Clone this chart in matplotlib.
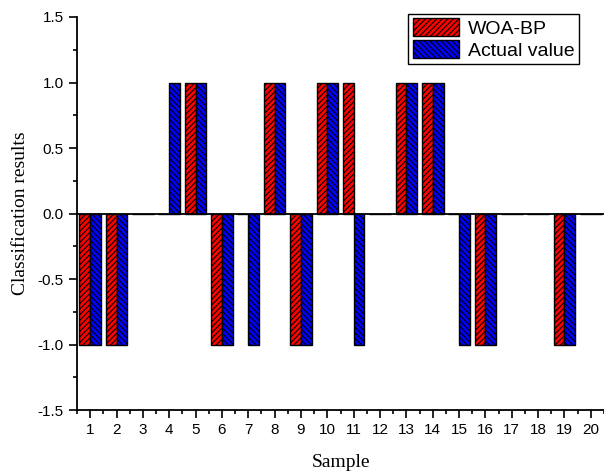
import numpy as np
import matplotlib.pyplot as plt
from matplotlib.ticker import MultipleLocator

# Datos
muestras = np.arange(1, 21)
woa_bp = [-1, -1, 0, 0, 1, -1, 0, 1, -1, 1, 1, 0, 1, 1, 0, -1, 0, 0, -1, 0]
real = [-1, -1, 0, 1, 1, -1, -1, 1, -1, 1, -1, 0, 1, 1, -1, -1, 0, 0, -1, 0]

plt.rcParams['hatch.linewidth'] = 0.8
fig = plt.figure(figsize=(6.04, 4.72), dpi=100)
ax = fig.add_axes([0.1275, 0.131, 0.8725, 0.833])

ancho = 0.41
ax.bar(muestras - ancho/2, woa_bp, ancho, color='#ff0000', edgecolor='black',
       hatch='//////', linewidth=1, label='WOA-BP')
ax.bar(muestras + ancho/2, real, ancho, color='#0000ff', edgecolor='black',
       hatch='\\\\\\\\\\\\', linewidth=1, label='Actual value')

ax.axhline(0, color='black', linewidth=1.3)

ax.set_xlim(0.5, 20.5)
ax.set_ylim(-1.5, 1.5)
ax.set_xticks(muestras)
ax.xaxis.set_minor_locator(MultipleLocator(0.5))
ax.yaxis.set_major_locator(MultipleLocator(0.5))
ax.yaxis.set_minor_locator(MultipleLocator(0.25))
ax.set_yticklabels([f'{v:.1f}' for v in ax.get_yticks()])

for s in ['top', 'right']:
    ax.spines[s].set_visible(False)
for s in ['left', 'bottom']:
    ax.spines[s].set_linewidth(1.3)

ax.tick_params(which='major', direction='out', length=6, width=1.2,
               labelsize=11, labelfontfamily='Liberation Sans')
ax.tick_params(which='minor', direction='out', length=3, width=1.2)

ax.set_xlabel('Sample', fontfamily='Liberation Serif', fontsize=14, labelpad=12)
ax.set_ylabel('Classification results', fontfamily='Liberation Serif', fontsize=14, labelpad=6)

ax.legend(loc='upper right', bbox_to_anchor=(0.9526, 1.008),
          prop={'family': 'Liberation Sans', 'size': 14},
          frameon=True, fancybox=False, edgecolor='black', framealpha=1,
          handlelength=2.4, handleheight=1.05, handletextpad=0.45, borderpad=0.22,
          labelspacing=0.12, borderaxespad=0)

plt.savefig('out.png', dpi=100)
plt.close()
